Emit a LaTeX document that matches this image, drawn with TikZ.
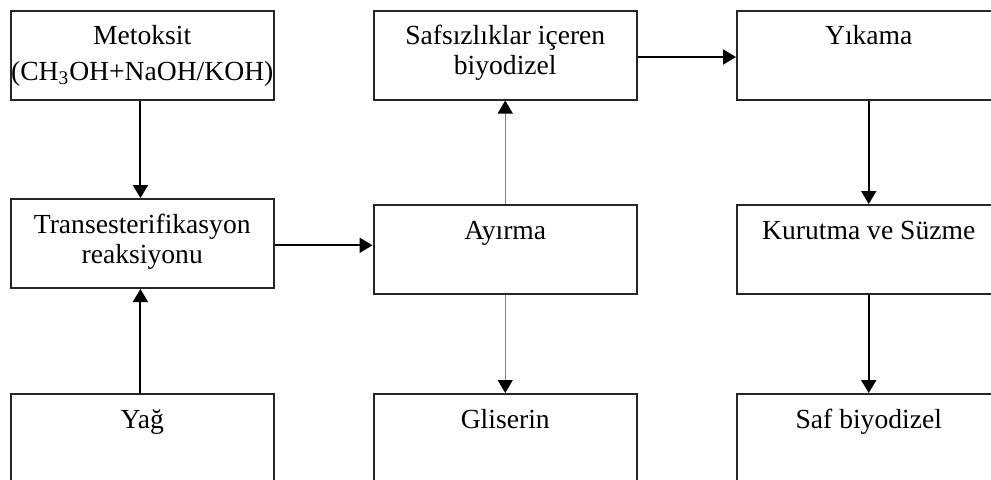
\documentclass[tikz,border=0pt]{standalone}
\usepackage{fontspec}
\setmainfont{Liberation Serif}
\usetikzlibrary{arrows.meta}
\begin{document}
\begin{tikzpicture}[x=0.5pt,y=-0.5pt,
  box/.style={draw=black!85,line width=1pt,minimum width=131.75pt,inner sep=0pt,anchor=north west},
  midbox/.style={box,minimum height=44.5pt},
  lowbox/.style={box,minimum height=70pt},
  txt/.style={anchor=base,align=center,inner sep=0pt,font=\fontsize{13.8pt}{15pt}\selectfont},
  arr/.style={line width=1pt,-{Triangle[width=7.5pt,length=6.5pt]}},
  garr/.style={draw=black!50,line width=0.6pt,-{Triangle[width=7.5pt,length=6.5pt,color=black]}}]
\useasboundingbox (0,0) rectangle (991,479);
\clip (0,0) rectangle (991,479);
\fill[white] (0,0) rectangle (991,479);
% boxes
\node[midbox] (M) at (9.5,9.5) {};
\node[midbox] (T) at (9.5,198) {};
\node[lowbox] (Y) at (9.5,393) {};
\node[midbox] (S) at (372.5,9.5) {};
\node[midbox] (A) at (372.5,204) {};
\node[lowbox] (G) at (372.5,393) {};
\node[midbox] (K) at (736,9.5) {};
\node[midbox] (U) at (736,204) {};
\node[lowbox] (P) at (736,393) {};
% texts (base anchor = baseline of the last line)
\node[txt] (tM) at ([yshift=-35.3pt]M.north) {Metoksit\\[3pt](CH\textsubscript{3}OH+NaOH/KOH)};
\node[txt] (tT) at ([yshift=-32.5pt]T.north) {Transesterifikasyon\\reaksiyonu};
\node[txt] (tY) at ([yshift=-17.5pt]Y.north) {Yağ};
\node[txt] (tS) at ([yshift=-32.3pt]S.north) {Safsızlıklar içeren\\biyodizel};
\node[txt] (tA) at ([yshift=-17.5pt]A.north) {Ayırma};
\node[txt] (tG) at ([yshift=-17.5pt]G.north) {Gliserin};
\node[txt] (tK) at ([yshift=-17.5pt]K.north) {Yıkama};
\node[txt] (tU) at ([yshift=-17.5pt]U.north) {Kurutma ve Süzme};
\node[txt] (tP) at ([yshift=-17.5pt]P.north) {Saf biyodizel};
% connectors
\draw[arr] ([xshift=-0.9pt]M.south) -- ([xshift=-0.9pt]T.north);
\draw[arr] ([xshift=-0.9pt]Y.north) -- ([xshift=-0.9pt]T.south);
\draw[arr] ([yshift=-0.9pt]T.east) -- ([yshift=-0.9pt]T.east -| A.west);
\draw[garr] (A.north) -- (S.south);
\draw[garr] (A.south) -- (G.north);
\draw[arr] ([yshift=-1pt]S.east) -- ([yshift=-1pt]S.east -| K.west);
\draw[arr] (K.south) -- (U.north);
\draw[arr] (U.south) -- (P.north);
\end{tikzpicture}
\end{document}
